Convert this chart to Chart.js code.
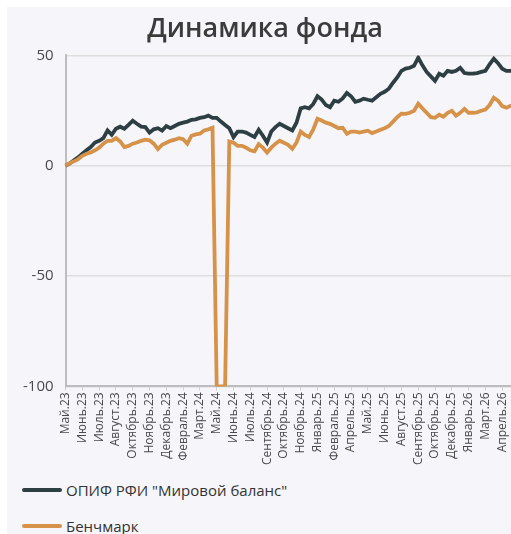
<!DOCTYPE html>
<html>
<head>
<meta charset="utf-8">
<script src="https://cdn.jsdelivr.net/npm/chart.js@4.4.1/dist/chart.umd.min.js"></script>
<style>
  html, body { margin: 0; padding: 0; background: #ffffff; overflow: hidden; width: 511px; height: 534px; }
  #card { position: absolute; left: 7px; top: 7px; width: 526px; height: 560px; background: #f6f6fa; }
  #wrap { position: absolute; left: 0; top: 0; width: 526px; height: 460px; }
  .leg { position: absolute; left: 15px; font-family: "Open Sans", sans-serif; font-size: 15px; color: #333; white-space: nowrap; display: flex; align-items: center; }
  .leg span.sw { display: inline-block; width: 40px; height: 4px; border-radius: 2px; margin-right: 4px; }
</style>
</head>
<body>
<div id="card">
  <div id="wrap"><canvas id="c"></canvas></div>
  <div class="leg" style="top:473px"><span class="sw" style="background:#2d3f43"></span>ОПИФ РФИ "Мировой баланс"</div>
  <div class="leg" style="top:509px"><span class="sw" style="background:#d69249"></span>Бенчмарк</div>
</div>
<script>
const tickLabels = ["Май.23","Июнь.23","Июль.23","Август.23","Октябрь.23","Ноябрь.23","Декабрь.23","Февраль.24","Март.24","Май.24","Июнь.24","Июль.24","Сентябрь.24","Октябрь.24","Ноябрь.24","Январь.25","Февраль.25","Апрель.25","Май.25","Июнь.25","Август.25","Сентябрь.25","Октябрь.25","Декабрь.25","Январь.26","Март.26","Апрель.26"];
const fundValues = [0,1,2.5,3.8,5.5,7,8.5,10.5,11.3,12.5,16,14,16.8,17.7,16.8,18.5,20.4,19,17.7,17.5,15,16.5,17,15.9,18,17,18,19,19.5,20,20.8,21,21.7,22,22.7,21.7,21.7,20,18.5,17,13,15.5,15.5,15,14,13,16.3,13.6,10.5,15.5,17.5,19,18,17,16,19.5,26,26.5,26,28,31.5,30,27.5,26.5,29.5,29,30.5,33,31.5,29,29.5,30.4,29.9,29.5,31,32.6,33.5,34.9,37.6,40,43,44,44.4,45.3,49,45.5,42.5,40.5,38.5,41.7,40.8,43,42.5,43,44.4,42,41.7,41.7,42,42.5,43,46,48.5,46.5,44,43,43,43.5,43.5];
const benchValues = [0,1.2,2,3,4.5,5.4,6,7,8.2,10,11.3,11.3,12.5,11,8.5,9,10,10.5,11.3,11.8,11.5,10,7.5,9.5,10.4,11.3,11.8,12.5,12,10,13.6,14.2,14.5,16,16.5,17.2,-100,-100,-100,11,10.4,9,9,8.2,7,6.5,9.8,8.2,6,8.2,10,11.3,10.4,9.5,7.7,10.5,15.5,14,13,16.5,21.3,20.5,19.5,19,18,17,17.2,14.5,15.5,15.5,15,15.5,15.9,14.8,15.5,16.3,17,18,20,22,23.6,23.5,24,24.9,28.1,26,24,22,21.7,23.1,22.2,24,24.9,22.7,24,25.8,24,24,24.2,24.9,25.5,27.5,30.8,29.5,27,26.3,27.2,27.5,27.5];
const yTicks = [50, 0, -50, -100];
const pointsPerTick = 4;

const labels = fundValues.map((_, i) => (i % pointsPerTick === 0 && tickLabels[i / pointsPerTick]) ? tickLabels[i / pointsPerTick] : '');

const FONT = '"Open Sans", sans-serif';
new Chart(document.getElementById('c'), {
  type: 'line',
  data: {
    labels: labels,
    datasets: [
      { label: 'ОПИФ РФИ "Мировой баланс"', data: fundValues, borderColor: '#2d3f43', backgroundColor: '#2d3f43', borderWidth: 3.8, pointRadius: 0, tension: 0, order: 2 },
      { label: 'Бенчмарк', data: benchValues, borderColor: '#d69249', backgroundColor: '#d69249', borderWidth: 3.8, pointRadius: 0, tension: 0, order: 1 }
    ]
  },
  options: {
    responsive: true,
    maintainAspectRatio: false,
    animation: false,
    layout: { padding: { left: 4, right: 14, top: 3, bottom: 0 } },
    plugins: {
      legend: { display: false },
      tooltip: { enabled: false },
      title: { display: true, text: 'Динамика фонда', color: '#3b3b3b', font: { family: FONT, size: 27, weight: '600' }, padding: { top: 3, bottom: 10 } }
    },
    scales: {
      x: {
        grid: { drawOnChartArea: false, drawTicks: true, tickLength: 4, color: '#cfcfcf' },
        border: { color: '#bdbdbd', width: 2 },
        ticks: {
          autoSkip: false, minRotation: 90, maxRotation: 90, padding: 2,
          color: '#4a4a4a', font: { family: FONT, size: 12 },
          callback: function(v, i) { const l = labels[i]; return l === '' ? null : l; }
        }
      },
      y: {
        min: -100, max: 50,
        afterBuildTicks: (s) => { s.ticks = yTicks.map(v => ({ value: v })); },
        grid: { color: '#dedede', lineWidth: 1.5, drawTicks: false },
        border: { color: '#bdbdbd', width: 2 },
        ticks: { padding: 12, color: '#4a4a4a', font: { family: FONT, size: 15 } }
      }
    }
  }
});
</script>
</body>
</html>
